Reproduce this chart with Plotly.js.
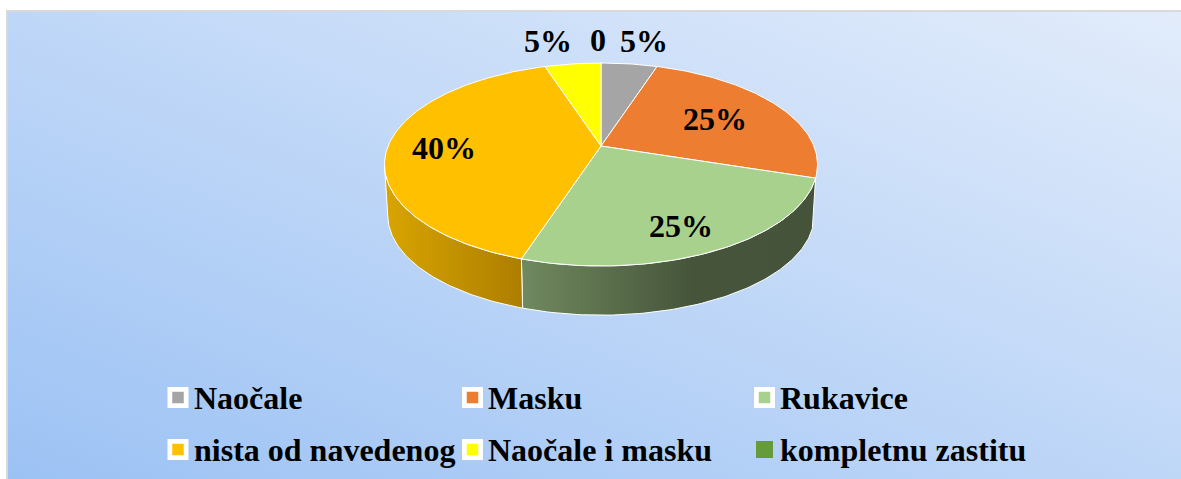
<!DOCTYPE html>
<html>
<head>
<meta charset="utf-8">
<script src="https://cdn.plot.ly/plotly-3.0.1.min.js"></script>
<style>
html,body{margin:0;padding:0;background:#fff;width:1181px;height:479px;overflow:hidden}
#bg{position:absolute;left:6px;top:10px;width:1173px;height:467px;border-left:2px solid #d9d9d9;border-top:2px solid #d9d9d9;
background:linear-gradient(to top right,#9cc2f4,#e2ecfb)}
#chart{position:absolute;left:0;top:0;width:1181px;height:479px}
</style>
</head>
<body>
<div id="bg"></div>
<div id="chart"></div>
<script>
// Data
const categories = ['Naočale','Masku','Rukavice','nista od navedenog','Naočale i masku','kompletnu zastitu'];
const values = [5,25,25,40,5,0];
const valueLabels = ['5%','25%','25%','40%','5%','0'];
const sliceColors = ['#a5a5a5','#ed7d31','#a9d18e','#ffc000','#ffff00','#659a3d'];

// Pie geometry: a tilted disc seen in perspective
const CX = 601, CY = 146, A = 212.9, B = 98.1, K = 0.1823, DEPTH = 51, BASE = 0.985;
const RAD = Math.PI/180;
function project(deg, r, base){
  const u = r*Math.sin(deg*RAD), v = r*Math.cos(deg*RAD), d = 1+K*v;
  const s = base ? BASE : 1;
  return [CX + s*A*u/d, CY + s*B*(-v)/d + (base ? DEPTH : 0)];
}
function arc(from, to, base){
  const pts = [], n = Math.max(1, Math.ceil(Math.abs(to-from)));
  for(let i=0;i<=n;i++) pts.push(project(from+(to-from)*i/n, 1, base));
  return pts;
}
const total = values.reduce((a,b)=>a+b,0);
let acc = 0;
const slices = values.map(v=>{const s={from:acc/total*360,to:(acc+v)/total*360}; acc+=v; return s;});

const LEFT_EXTREME = 259.5;
const wallGradients = {
  2:[[0,'#70895f'],[0.58,'#46553a'],[1,'#44533a']],
  3:[[0,'#d8a500'],[1,'#ad7e00']]
};
const traces = [];
// side walls (only the slices facing the viewer)
[2,3].forEach(i=>{
  const from = slices[i].from, to = Math.min(slices[i].to, LEFT_EXTREME);
  const pts = arc(from,to,false).concat(arc(to,from,true));
  pts.push(pts[0]);
  traces.push({type:'scatter',mode:'lines',x:pts.map(p=>p[0]),y:pts.map(p=>p[1]),
    fill:'toself',fillgradient:{type:'horizontal',colorscale:wallGradients[i]},
    line:{color:'#ffffff',width:1},hoverinfo:'skip',showlegend:false});
});
// top faces
values.forEach((v,i)=>{
  if(!v) return;
  const pts = [[CX,CY]].concat(arc(slices[i].from,slices[i].to,false));
  pts.push([CX,CY]);
  traces.push({type:'scatter',mode:'lines',x:pts.map(p=>p[0]),y:pts.map(p=>p[1]),
    fill:'toself',fillcolor:sliceColors[i],line:{color:'#ffffff',width:1},
    name:categories[i],hoverinfo:'name',showlegend:false});
});

// Legend layout
const legendColumns = [178,472.5,764.5], legendRows = [397.5,449.5];
const legendTextGap = 13.5;
const legendX = categories.map((c,i)=>legendColumns[i%3]);
const legendY = categories.map((c,i)=>legendRows[Math.floor(i/3)]);
const haloSizes = categories.map((c,i)=>values[i]?21:0);
const swatchSizes = categories.map((c,i)=>values[i]?11.5:17);
traces.push({type:'scatter',mode:'markers',x:legendX,y:legendY,hoverinfo:'skip',showlegend:false,
  marker:{symbol:'square',size:haloSizes,color:'#ffffff',opacity:1,line:{width:0}}});
traces.push({type:'scatter',mode:'markers',x:legendX,y:legendY,text:categories,hoverinfo:'text',showlegend:false,
  marker:{symbol:'square',size:swatchSizes,color:sliceColors,opacity:1,line:{width:0}}});

const FONT = '"Liberation Serif","Times New Roman",serif';
const labelRadius = [1.35,0.635,0.75,0.737,1.35,1.35];
const labelShiftX = [7,0,-3,0,-17,-3];
const labelShiftY = [0,0,5,2,0,0];
const annotations = [];
values.forEach((v,i)=>{
  const mid = (slices[i].from+slices[i].to)/2;
  const p = project(mid,labelRadius[i],false);
  annotations.push({x:p[0],y:p[1],xref:'x',yref:'y',text:'<b>'+valueLabels[i]+'</b>',showarrow:false,
    xshift:labelShiftX[i],yshift:-labelShiftY[i],font:{family:FONT,size:32,color:'#000'}});
});
categories.forEach((c,i)=>{
  annotations.push({x:legendX[i]+legendTextGap,y:legendY[i],xref:'x',yref:'y',text:'<b>'+c+'</b>',showarrow:false,
    xanchor:'left',yanchor:'middle',font:{family:FONT,size:32,color:'#000'}});
});

Plotly.newPlot('chart',traces,{
  width:1181,height:479,margin:{l:0,r:0,t:0,b:0},
  paper_bgcolor:'rgba(0,0,0,0)',plot_bgcolor:'rgba(0,0,0,0)',
  xaxis:{range:[0,1181],visible:false,fixedrange:true},
  yaxis:{range:[479,0],visible:false,fixedrange:true},
  showlegend:false,annotations:annotations,hovermode:'closest'
},{displayModeBar:false,staticPlot:false});
</script>
</body>
</html>
